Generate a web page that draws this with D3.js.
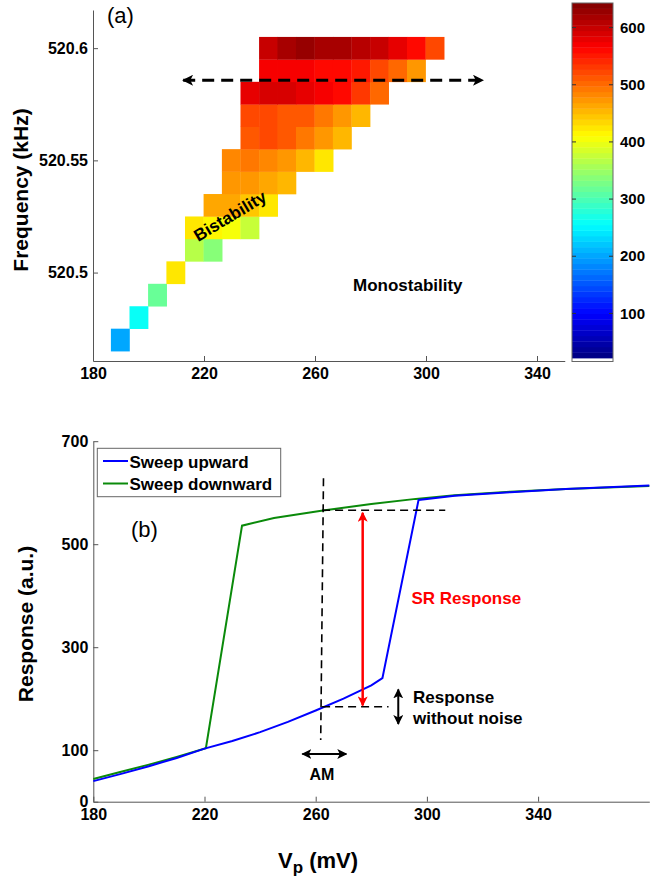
<!DOCTYPE html>
<html>
<head>
<meta charset="utf-8">
<script src="https://cdn.jsdelivr.net/npm/d3@7"></script>
<style>
body { margin: 0; background: #fff; }
text { font-family: "Liberation Sans", Arial, sans-serif; }
</style>
</head>
<body>
<script>
// ---- data: panel (a) bistable region map ----
var n = null;
var vpCols = [189.8, 196.5, 203.2, 209.8, 216.5, 223.2, 229.8, 236.5, 243.2, 249.8, 256.5, 263.2, 269.8, 276.5, 283.2, 289.8, 296.5, 303.2];
var freqRows = [520.47, 520.48, 520.49, 520.50, 520.51, 520.52, 520.53, 520.54, 520.55, 520.56, 520.57, 520.58, 520.59, 520.60];
// one row per frequency (bottom to top), one entry per Vp column
var bistableResponse = [
  [206,n,n,n,n,n,n,n,n,n,n,n,n,n,n,n,n,n],
  [n,262,n,n,n,n,n,n,n,n,n,n,n,n,n,n,n,n],
  [n,n,314,n,n,n,n,n,n,n,n,n,n,n,n,n,n,n],
  [n,n,n,421,n,n,n,n,n,n,n,n,n,n,n,n,n,n],
  [n,n,n,n,371,342,n,n,n,n,n,n,n,n,n,n,n,n],
  [n,n,n,n,424,419,401,376,n,n,n,n,n,n,n,n,n,n],
  [n,n,n,n,n,464,468,444,429,n,n,n,n,n,n,n,n,n],
  [n,n,n,n,n,n,478,478,468,449,n,n,n,n,n,n,n,n],
  [n,n,n,n,n,n,481,491,481,472,454,429,n,n,n,n,n,n],
  [n,n,n,n,n,n,n,514,517,512,488,478,458,n,n,n,n,n],
  [n,n,n,n,n,n,n,517,517,514,512,490,472,452,n,n,n,n],
  [n,n,n,n,n,n,n,579,586,586,579,570,559,532,506,n,n,n],
  [n,n,n,n,n,n,n,n,574,572,566,565,560,550,525,500,475,n],
  [n,n,n,n,n,n,n,n,596,620,625,622,618,612,600,584,560,517]
];
var colorLimits = [22, 643];
var colorbarTicks = [100, 200, 300, 400, 500, 600];
var xTicksA = [180, 220, 260, 300, 340];
var yTicksA = [520.5, 520.55, 520.6];

// ---- data: panel (b) sweeps ----
var sweepUpVp   = [180, 190, 200, 210, 220, 230, 240, 250, 260, 270, 280, 284, 297, 310, 330, 350, 380];
var sweepUpResp = [40, 54, 69, 85, 103, 118, 135, 155, 177, 200, 226, 240, 586, 594, 601, 607, 614];
var sweepDownVp   = [180, 190, 200, 210, 220.5, 233.5, 245, 262, 280, 296, 310, 330, 350, 380];
var sweepDownResp = [44, 58, 72, 87, 104, 536, 551, 565, 578, 588, 595, 602, 607, 613];
var xTicksB = [180, 220, 260, 300, 340];
var yTicksB = [0, 100, 300, 500, 700];

var svg = d3.select("body").append("svg")
    .attr("width", 650)
    .attr("height", 884);

var defs = svg.append("defs");
function marker(id, color, w, h) {
  defs.append("marker")
      .attr("id", id)
      .attr("viewBox", "0 0 10 10")
      .attr("refX", 9).attr("refY", 5)
      .attr("markerUnits", "userSpaceOnUse")
      .attr("markerWidth", w).attr("markerHeight", h)
      .attr("orient", "auto-start-reverse")
    .append("path")
      .attr("d", "M0,0 L10,5 L0,10 L2.5,5 Z")
      .attr("fill", color);
}
marker("headBlack", "#000", 13, 11);
marker("headRed", "#f00", 11, 10);
marker("headSmall", "#000", 10, 10);

// jet colormap, 64 levels like matlab
function jet(t) {
  var i = Math.max(0, Math.min(63, Math.floor(t * 64)));
  var u = (i + 0.5) / 64;
  function c(v) { return Math.round(255 * Math.max(0, Math.min(1, v))); }
  return d3.rgb(c(1.5 - Math.abs(4 * u - 3)), c(1.5 - Math.abs(4 * u - 2)), c(1.5 - Math.abs(4 * u - 1))).toString();
}
var tColor = d3.scaleLinear().domain(colorLimits).range([0, 1]);

// ================= panel (a) =================
var xA = d3.scaleLinear().domain([180, 350]).range([93, 564.75]);
var yA = d3.scaleLinear().domain([520.4606, 520.617]).range([361, 10]);
var gA = svg.append("g");

var colStep = vpCols[1] - vpCols[0];
var rowStep = freqRows[1] - freqRows[0];
var cells = [];
bistableResponse.forEach(function(row, ri) {
  row.forEach(function(v, ci) {
    if (v !== null) cells.push({vp: vpCols[ci], f: freqRows[ri], v: v});
  });
});

gA.selectAll("rect.cell")
    .data(cells)
  .enter().append("rect")
    .attr("class", "cell")
    .attr("x", function(d) { return xA(d.vp - colStep / 2); })
    .attr("y", function(d) { return yA(d.f + rowStep / 2); })
    .attr("width", function(d) { return xA(d.vp + colStep / 2) - xA(d.vp - colStep / 2) + 0.3; })
    .attr("height", function(d) { return yA(d.f - rowStep / 2) - yA(d.f + rowStep / 2) + 0.3; })
    .attr("fill", function(d) { return jet(tColor(d.v)); });

// axes (a)
var axA_x = gA.append("g")
    .attr("transform", "translate(0,361)")
    .call(d3.axisBottom(xA).tickValues(xTicksA).tickSizeInner(-5).tickSizeOuter(0).tickPadding(7).tickFormat(d3.format("d")));
var axA_y = gA.append("g")
    .attr("transform", "translate(93,0)")
    .call(d3.axisLeft(yA).tickValues(yTicksA).tickSizeInner(-5).tickSizeOuter(0).tickPadding(5).tickFormat(function(d) { return String(+d.toFixed(2)); }));

// dashed double arrow
gA.append("line")
    .attr("x1", xA(212.5)).attr("y1", yA(520.5857))
    .attr("x2", xA(320.5)).attr("y2", yA(520.5857))
    .attr("stroke", "#000").attr("stroke-width", 3)
    .attr("stroke-dasharray", "12,7")
    .attr("marker-start", "url(#headBlack)")
    .attr("marker-end", "url(#headBlack)");

gA.append("text")
    .attr("transform", "translate(233,221) rotate(-31)")
    .attr("text-anchor", "middle")
    .style("font-weight", "bold").style("font-size", "17px")
    .text("Bistability");

gA.append("text")
    .attr("x", 353).attr("y", 291)
    .style("font-weight", "bold").style("font-size", "17px")
    .text("Monostability");

gA.append("text")
    .attr("x", 107).attr("y", 23)
    .style("font-size", "22px")
    .text("(a)");

gA.append("text")
    .attr("transform", "translate(28,190) rotate(-90)")
    .attr("text-anchor", "middle")
    .style("font-weight", "bold").style("font-size", "21px")
    .text("Frequency (kHz)");

// colorbar
var yC = d3.scaleLinear().domain(colorLimits).range([358, 3]);
var levels = d3.range(64);
var gC = svg.append("g");
gC.selectAll("rect.lev")
    .data(levels)
  .enter().append("rect")
    .attr("x", 572)
    .attr("width", 41)
    .attr("y", function(i) { return yC(colorLimits[0] + (i + 1) * (colorLimits[1] - colorLimits[0]) / 64); })
    .attr("height", (358 - 3) / 64 + 0.4)
    .attr("fill", function(i) { return jet((i + 0.5) / 64); });
gC.append("rect")
    .attr("x", 572).attr("y", 3).attr("width", 41).attr("height", 358.5)
    .attr("fill", "none").attr("stroke", "#666").attr("stroke-width", 1);
gC.selectAll("line.ct")
    .data(colorbarTicks)
  .enter().append("line")
    .attr("x1", 572).attr("x2", 576)
    .attr("y1", function(d) { return yC(d); }).attr("y2", function(d) { return yC(d); })
    .attr("stroke", "#333");
gC.selectAll("line.ct2")
    .data(colorbarTicks)
  .enter().append("line")
    .attr("x1", 609).attr("x2", 613)
    .attr("y1", function(d) { return yC(d); }).attr("y2", function(d) { return yC(d); })
    .attr("stroke", "#333");
gC.selectAll("text.cl")
    .data(colorbarTicks)
  .enter().append("text")
    .attr("x", 620)
    .attr("y", function(d) { return yC(d); })
    .attr("dy", "0.35em")
    .style("font-weight", "bold").style("font-size", "15px")
    .text(function(d) { return d; });

// ================= panel (b) =================
var xB = d3.scaleLinear().domain([180, 380]).range([93.3, 649.3]);
var yB = d3.scaleLinear().domain([0, 700]).range([801.7, 441.2]);
var gB = svg.append("g");

var axB_x = gB.append("g")
    .attr("transform", "translate(0,801.7)")
    .call(d3.axisBottom(xB).tickValues(xTicksB).tickSizeInner(-5).tickSizeOuter(0).tickPadding(7));
var axB_y = gB.append("g")
    .attr("transform", "translate(93.3,0)")
    .call(d3.axisLeft(yB).tickValues(yTicksB).tickSizeInner(-5).tickSizeOuter(0).tickPadding(5));

[axA_x, axA_y, axB_x, axB_y].forEach(function(ax) {
  ax.select(".domain").attr("stroke", "#555");
  ax.selectAll(".tick line").attr("stroke", "#555");
  ax.selectAll(".tick text")
    .style("font-family", "'Liberation Sans', Arial, sans-serif")
    .style("font-weight", "bold").style("font-size", "16px").attr("fill", "#000");
});

var line = d3.line()
    .x(function(d) { return xB(d[0]); })
    .y(function(d) { return yB(d[1]); });

var upPts = sweepUpVp.map(function(v, i) { return [v, sweepUpResp[i]]; });
var downPts = sweepDownVp.map(function(v, i) { return [v, sweepDownResp[i]]; });

gB.append("path")
    .datum(downPts)
    .attr("d", line)
    .attr("fill", "none").attr("stroke", "#0a8a0a").attr("stroke-width", 2);
gB.append("path")
    .datum(upPts)
    .attr("d", line)
    .attr("fill", "none").attr("stroke", "#0000ff").attr("stroke-width", 2);

// annotation lines
function dashed(x1, y1, x2, y2) {
  gB.append("line")
      .attr("x1", xB(x1)).attr("y1", yB(y1))
      .attr("x2", xB(x2)).attr("y2", yB(y2))
      .attr("stroke", "#000").attr("stroke-width", 1.6)
      .attr("stroke-dasharray", "8,5");
}
dashed(262.8, 628, 261.8, 120);
dashed(262.3, 566, 306.6, 566);
dashed(262.3, 184.5, 286.2, 184.5);

gB.append("line")
    .attr("x1", xB(276.9)).attr("y1", yB(561))
    .attr("x2", xB(276.9)).attr("y2", yB(187))
    .attr("stroke", "#f00").attr("stroke-width", 2.5)
    .attr("marker-start", "url(#headRed)")
    .attr("marker-end", "url(#headRed)");

gB.append("line")
    .attr("x1", xB(289.7)).attr("y1", yB(218))
    .attr("x2", xB(289.7)).attr("y2", yB(151))
    .attr("stroke", "#000").attr("stroke-width", 2)
    .attr("marker-start", "url(#headSmall)")
    .attr("marker-end", "url(#headSmall)");

gB.append("line")
    .attr("x1", xB(255.2)).attr("y1", yB(92.6))
    .attr("x2", xB(271.0)).attr("y2", yB(92.6))
    .attr("stroke", "#000").attr("stroke-width", 2)
    .attr("marker-start", "url(#headSmall)")
    .attr("marker-end", "url(#headSmall)");

gB.append("text")
    .attr("x", 411.5).attr("y", 603.5)
    .attr("fill", "#f00")
    .style("font-weight", "bold").style("font-size", "17px")
    .text("SR Response");

gB.append("text")
    .attr("x", 413).attr("y", 703)
    .style("font-weight", "bold").style("font-size", "17px")
    .text("Response");
gB.append("text")
    .attr("x", 413).attr("y", 724)
    .style("font-weight", "bold").style("font-size", "17px")
    .text("without noise");

gB.append("text")
    .attr("x", 322).attr("y", 780)
    .attr("text-anchor", "middle")
    .style("font-weight", "bold").style("font-size", "16px")
    .text("AM");

gB.append("text")
    .attr("x", 131).attr("y", 537)
    .style("font-size", "22px")
    .text("(b)");

// legend
var legend = gB.append("g");
legend.append("rect")
    .attr("x", 97.3).attr("y", 448.3).attr("width", 183.4).attr("height", 48.4)
    .attr("fill", "#fff").attr("stroke", "#666").attr("stroke-width", 1);
var legendItems = [["Sweep upward", "#0000ff", 461], ["Sweep downward", "#0a8a0a", 483.5]];
legendItems.forEach(function(it) {
  legend.append("line")
      .attr("x1", 103).attr("x2", 128).attr("y1", it[2]).attr("y2", it[2])
      .attr("stroke", it[1]).attr("stroke-width", 2);
  legend.append("text")
      .attr("x", 129.5).attr("y", it[2] + 6.5)
      .style("font-weight", "bold").style("font-size", "17px")
      .text(it[0]);
});

gB.append("text")
    .attr("transform", "translate(33,624) rotate(-90)")
    .attr("text-anchor", "middle")
    .style("font-weight", "bold").style("font-size", "21px")
    .text("Response (a.u.)");

var xl = gB.append("text")
    .attr("x", 278).attr("y", 868)
    .style("font-weight", "bold").style("font-size", "22px");
xl.append("tspan").text("V");
xl.append("tspan").attr("dy", 5).style("font-size", "17px").text("p");
xl.append("tspan").attr("dy", -5).text(" (mV)");
</script>
</body>
</html>
